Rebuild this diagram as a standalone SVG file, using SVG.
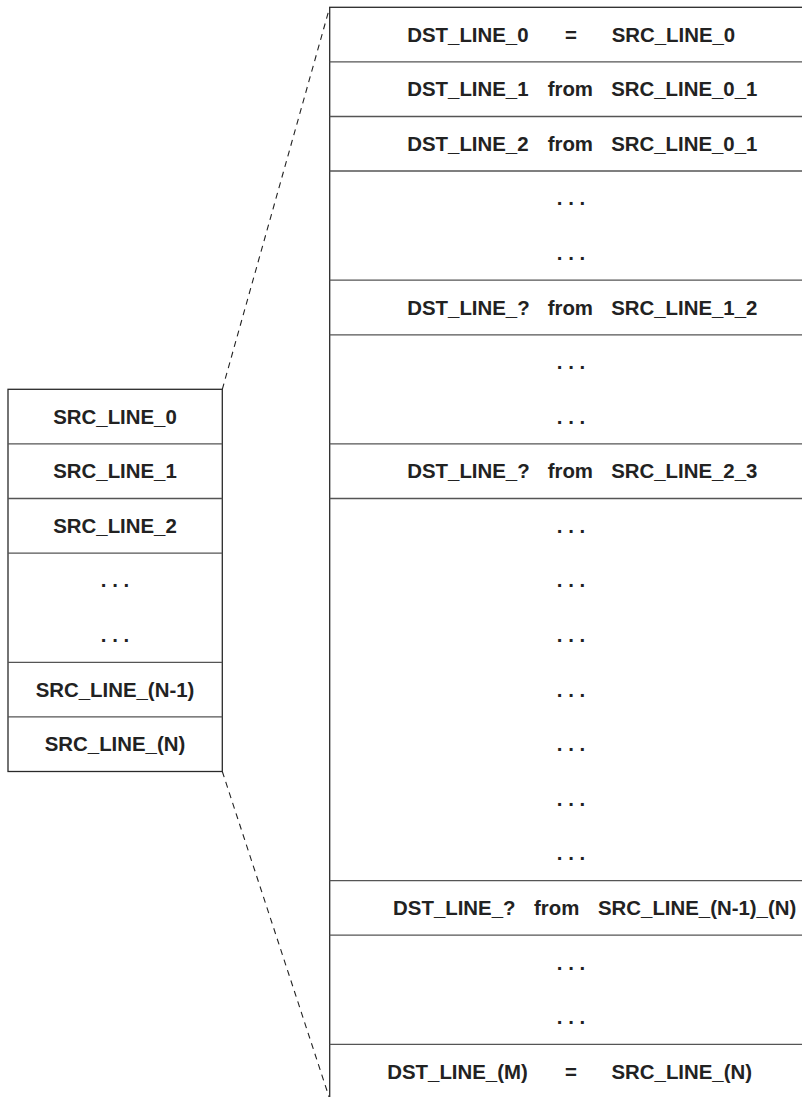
<svg xmlns="http://www.w3.org/2000/svg" width="802" height="1097" viewBox="0 0 802 1097">
<style>
.box{fill:#fff;stroke:#2a2a2a;stroke-width:1.3}
.sep{stroke:#555;stroke-width:1.3}
.t{font-family:"Liberation Sans",Arial,sans-serif;font-weight:bold;font-size:20.4px;fill:#222}
.c{text-anchor:middle}
.dash{fill:none;stroke:#222;stroke-width:1.1;stroke-dasharray:6 5}
</style>
<rect width="802" height="1097" fill="#fff"/>
<g id="connectors">
<line class="dash" x1="222.3" y1="389.3" x2="329.7" y2="7.3"/>
<line class="dash" x1="222.3" y1="771.5" x2="329.7" y2="1098.9"/>
</g>
<g id="src">
<rect class="box" x="8" y="389.3" width="214.3" height="382.2"/>
<line class="sep" x1="8" y1="443.9" x2="222.3" y2="443.9"/>
<line class="sep" x1="8" y1="498.5" x2="222.3" y2="498.5"/>
<line class="sep" x1="8" y1="553.1" x2="222.3" y2="553.1"/>
<line class="sep" x1="8" y1="662.3" x2="222.3" y2="662.3"/>
<line class="sep" x1="8" y1="716.9" x2="222.3" y2="716.9"/>
<text class="t c" x="115" y="423.6">SRC_LINE_0</text>
<text class="t c" x="115" y="478.2">SRC_LINE_1</text>
<text class="t c" x="115" y="532.8">SRC_LINE_2</text>
<text class="t c" x="115" y="587.4">. . .</text>
<text class="t c" x="115" y="642">. . .</text>
<text class="t c" x="115" y="696.6">SRC_LINE_(N-1)</text>
<text class="t c" x="115" y="751.2">SRC_LINE_(N)</text>
</g>
<g id="dst">
<rect class="box" x="329.7" y="7.3" width="490" height="1091.6"/>
<line class="sep" x1="329.7" y1="61.9" x2="820" y2="61.9"/>
<line class="sep" x1="329.7" y1="116.5" x2="820" y2="116.5"/>
<line class="sep" x1="329.7" y1="171.0" x2="820" y2="171.0"/>
<line class="sep" x1="329.7" y1="280.2" x2="820" y2="280.2"/>
<line class="sep" x1="329.7" y1="334.8" x2="820" y2="334.8"/>
<line class="sep" x1="329.7" y1="443.9" x2="820" y2="443.9"/>
<line class="sep" x1="329.7" y1="498.5" x2="820" y2="498.5"/>
<line class="sep" x1="329.7" y1="880.6" x2="820" y2="880.6"/>
<line class="sep" x1="329.7" y1="935.2" x2="820" y2="935.2"/>
<line class="sep" x1="329.7" y1="1044.3" x2="820" y2="1044.3"/>
</g>
<g id="row0"><text class="t" x="407.3" y="41.6">DST_LINE_0</text><text class="t" x="565" y="41.6">=</text><text class="t" x="611.7" y="41.6">SRC_LINE_0</text></g>
<g id="row1"><text class="t" x="407.3" y="96.2">DST_LINE_1</text><text class="t" x="547.7" y="96.2">from</text><text class="t" x="611.2" y="96.2">SRC_LINE_0_1</text></g>
<g id="row2"><text class="t" x="407.3" y="150.8">DST_LINE_2</text><text class="t" x="547.7" y="150.8">from</text><text class="t" x="611.2" y="150.8">SRC_LINE_0_1</text></g>
<g id="dots1"><text class="t c" x="571" y="205.3">. . .</text><text class="t c" x="571" y="259.9">. . .</text></g>
<g id="row5"><text class="t" x="407.3" y="314.5">DST_LINE_?</text><text class="t" x="547.7" y="314.5">from</text><text class="t" x="611.2" y="314.5">SRC_LINE_1_2</text></g>
<g id="dots2"><text class="t c" x="571" y="369.1">. . .</text><text class="t c" x="571" y="423.7">. . .</text></g>
<g id="row8"><text class="t" x="407.3" y="478.2">DST_LINE_?</text><text class="t" x="547.7" y="478.2">from</text><text class="t" x="611.2" y="478.2">SRC_LINE_2_3</text></g>
<g id="dots3">
<text class="t c" x="571" y="532.8">. . .</text>
<text class="t c" x="571" y="587.4">. . .</text>
<text class="t c" x="571" y="642.0">. . .</text>
<text class="t c" x="571" y="696.6">. . .</text>
<text class="t c" x="571" y="751.1">. . .</text>
<text class="t c" x="571" y="805.7">. . .</text>
<text class="t c" x="571" y="860.3">. . .</text>
</g>
<g id="row16"><text class="t" x="393.1" y="914.9">DST_LINE_?</text><text class="t" x="534" y="914.9">from</text><text class="t" x="598" y="914.9">SRC_LINE_(N-1)_(N)</text></g>
<g id="dots4"><text class="t c" x="571" y="969.5">. . .</text><text class="t c" x="571" y="1024.0">. . .</text></g>
<g id="row19"><text class="t" x="387.3" y="1078.6">DST_LINE_(M)</text><text class="t" x="565" y="1078.6">=</text><text class="t" x="611.5" y="1078.6">SRC_LINE_(N)</text></g>
</svg>
